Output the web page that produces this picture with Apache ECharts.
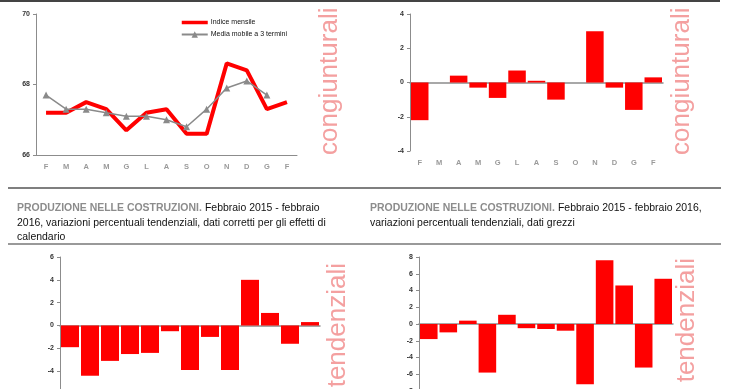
<!DOCTYPE html>
<html>
<head>
<meta charset="utf-8">
<script src="https://cdn.jsdelivr.net/npm/echarts@6/dist/echarts.min.js"></script>
<style>
  html, body { margin: 0; padding: 0; background: #fff; }
  #chart { width: 740px; height: 389px; }
</style>
</head>
<body>
<div id="chart"></div>
<script>
// mesi feb 2015 - feb 2016
const months = ['F', 'M', 'A', 'M', 'G', 'L', 'A', 'S', 'O', 'N', 'D', 'G', 'F'];
const indiceMensile = [67.2, 67.2, 67.5, 67.3, 66.7, 67.2, 67.3, 66.6, 66.6, 68.6, 68.4, 67.3, 67.5];
const mediaMobile = [67.7, 67.3, 67.3, 67.2, 67.1, 67.1, 67.0, 66.8, 67.3, 67.9, 68.1, 67.7, null];
const congiunturali = [-2.2, 0, 0.4, -0.3, -0.9, 0.7, 0.1, -1.0, 0, 3.0, -0.3, -1.6, 0.3];
const tendCorretti = [-1.9, -4.4, -3.1, -2.5, -2.4, -0.5, -3.9, -1.0, -3.9, 4.0, 1.1, -1.6, 0.3];
const tendGrezzi = [-1.8, -1.0, 0.4, -5.8, 1.1, -0.5, -0.6, -0.8, -7.2, 7.6, 4.6, -5.2, 5.4];

const axisGray = '#8c8c8c';
const labelFont = 'Liberation Sans';

function yAxisCfg(grid, min, max, interval) {
    return {
        type: 'value', gridIndex: grid, min: min, max: max, interval: interval,
        axisLine: { show: true, lineStyle: { color: axisGray, width: 1 } },
        axisTick: { show: true, length: 3, lineStyle: { color: axisGray } },
        splitLine: { show: false },
        axisLabel: { fontSize: 7, fontWeight: 'bold', color: '#333', fontFamily: labelFont, margin: 6 }
    };
}
function labelAxis(grid) {
    return {
        type: 'category', gridIndex: grid, data: months,
        axisLine: { show: false, onZero: false },
        axisTick: { show: false },
        axisLabel: { fontSize: 7.5, fontWeight: 'bold', color: '#9a9a9a', fontFamily: labelFont, margin: 8 }
    };
}
function zeroAxis(grid) {
    return {
        type: 'category', gridIndex: grid, data: months, position: 'bottom',
        axisLine: { show: true, onZero: true, lineStyle: { color: axisGray, width: 1.5 } },
        axisTick: { show: false },
        axisLabel: { show: false }
    };
}
function barSeries(xi, yi, data) {
    return {
        type: 'bar', xAxisIndex: xi, yAxisIndex: yi, data: data,
        barCategoryGap: '10%', itemStyle: { color: '#ff0000' }, z: 1
    };
}
function sideText(text, x, y, align) {
    return {
        type: 'text', x: x, y: y, rotation: Math.PI / 2,
        style: {
            text: text, align: align, verticalAlign: 'middle',
            fontSize: 26, fontFamily: 'Liberation Sans',
            fill: '#f4a0a0'
        }
    };
}
function titleText(x, text) {
    return {
        type: 'text', x: x, y: 201, scaleX: 0.91,
        style: {
            text: text,
            rich: {
                a: { fontSize: 11.5, fontWeight: 'bold', fill: '#8c8c8c', fontFamily: labelFont, lineHeight: 14.5 },
                b: { fontSize: 11.5, fill: '#111', fontFamily: labelFont, lineHeight: 14.5 }
            }
        }
    };
}

const chart = echarts.init(document.getElementById('chart'));
chart.setOption({
    animation: false,
    grid: [
        { left: 36, top: 14, width: 261, height: 141, outerBoundsMode: 'none' },
        { left: 410, top: 14, width: 253, height: 137, outerBoundsMode: 'none' },
        { left: 60, top: 257, width: 260, height: 137, outerBoundsMode: 'none' },
        { left: 419, top: 257, width: 254, height: 134, outerBoundsMode: 'none' }
    ],
    legend: {
        left: 180, top: 19, orient: 'vertical', itemGap: 5, padding: 0,
        itemWidth: 26, itemHeight: 8,
        textStyle: { fontSize: 7, color: '#111', fontFamily: labelFont, padding: [0, 0, 0, -2] },
        data: [
            { name: 'Indice mensile', itemStyle: { opacity: 0 }, lineStyle: { width: 3.5 } },
            'Media mobile a 3 termini'
        ]
    },
    xAxis: [
        {
            type: 'category', gridIndex: 0, data: months,
            axisLine: { show: true, lineStyle: { color: axisGray, width: 1 } },
            axisTick: { show: false },
            axisLabel: { fontSize: 7.5, fontWeight: 'bold', color: '#9a9a9a', fontFamily: labelFont, margin: 8 }
        },
        labelAxis(1), zeroAxis(1),
        labelAxis(2), zeroAxis(2),
        labelAxis(3), zeroAxis(3)
    ],
    yAxis: [
        yAxisCfg(0, 66, 70, 2),
        yAxisCfg(1, -4, 4, 2),
        yAxisCfg(2, -6, 6, 2),
        yAxisCfg(3, -8, 8, 2)
    ],
    series: [
        {
            name: 'Indice mensile', type: 'line', xAxisIndex: 0, yAxisIndex: 0,
            data: indiceMensile, symbol: 'none',
            lineStyle: { color: '#ff0000', width: 4 }, itemStyle: { color: '#ff0000' }
        },
        {
            name: 'Media mobile a 3 termini', type: 'line', xAxisIndex: 0, yAxisIndex: 0,
            data: mediaMobile, symbol: 'triangle', symbolSize: 7,
            lineStyle: { color: '#8a8a8a', width: 1.5 }, itemStyle: { color: '#8a8a8a' }
        },
        barSeries(1, 1, congiunturali),
        barSeries(3, 2, tendCorretti),
        barSeries(5, 3, tendGrezzi)
    ],
    graphic: [
        { type: 'line', shape: { x1: 0, y1: 1, x2: 720, y2: 1 }, style: { stroke: '#444', lineWidth: 2 } },
        { type: 'line', shape: { x1: 8, y1: 188, x2: 721, y2: 188 }, style: { stroke: '#555', lineWidth: 1.5 } },
        { type: 'line', shape: { x1: 8, y1: 244, x2: 721, y2: 244 }, style: { stroke: '#777', lineWidth: 1.5 } },
        sideText('congiunturali', 330, 155, 'left'),
        sideText('congiunturali', 682, 155, 'left'),
        sideText('tendenziali', 338, 263, 'right'),
        sideText('tendenziali', 687, 258, 'right'),
        titleText(17, '{a|PRODUZIONE NELLE COSTRUZIONI.} {b|Febbraio 2015 - febbraio}\n{b|2016, variazioni percentuali tendenziali, dati corretti per gli effetti di}\n{b|calendario}'),
        titleText(370, '{a|PRODUZIONE NELLE COSTRUZIONI.} {b|Febbraio 2015 - febbraio 2016,}\n{b|variazioni percentuali tendenziali, dati grezzi}')
    ]
});
</script>
</body>
</html>
